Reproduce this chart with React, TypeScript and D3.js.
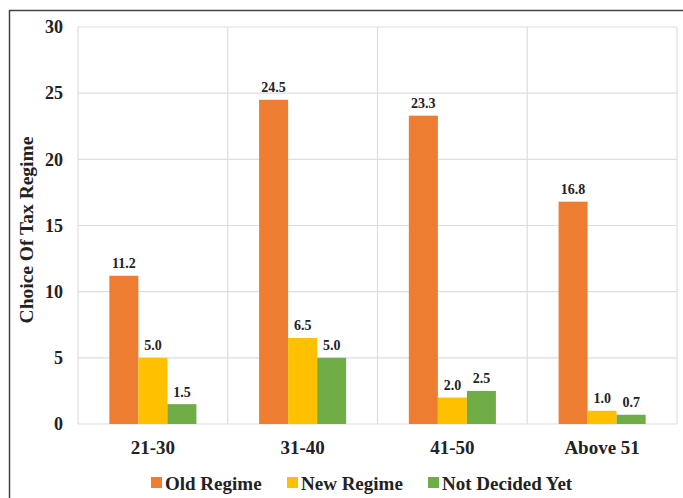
import React from "react";
import * as d3 from "d3";

const categories = ["21-30", "31-40", "41-50", "Above 51"];
const seriesNames = ["Old Regime", "New Regime", "Not Decided Yet"];
const oldRegime = [11.2, 24.5, 23.3, 16.8];
const newRegime = [5.0, 6.5, 2.0, 1.0];
const notDecided = [1.5, 5.0, 2.5, 0.7];
const yTicks = [0, 5, 10, 15, 20, 25, 30];
const colors = ["#ED7D31", "#FFC000", "#70AD47"];

const W = 683, H = 498;
const left = 78, right = 677, top = 27, bottom = 424;
const font = "'Liberation Serif', 'Times New Roman', serif";

export default function App() {
  const series = [oldRegime, newRegime, notDecided];
  const x = d3.scaleBand().domain(categories).range([left, right]).paddingInner(0).paddingOuter(0);
  const xs = d3.scaleBand().domain(seriesNames).range([0, x.bandwidth()]).paddingInner(0).paddingOuter(1.08);
  const y = d3.scaleLinear().domain([0, 30]).range([bottom, top]);

  const legendX = [151, 287, 428];

  return (
    <svg width={W} height={H} style={{ position: "absolute", left: 0, top: 0, background: "#fff" }} fontFamily={font}>
      <rect x={0} y={0} width={W} height={H} fill="#fff" />
      <path d={`M9.5,${H} V10.5 H${W}`} fill="none" stroke="#444" strokeWidth={1.5} />
      {yTicks.map(t => (
        <g key={t}>
          <line x1={left} x2={right} y1={y(t)} y2={y(t)} stroke="#dedede" strokeWidth={1.2} />
          <text x={63} y={y(t)} dy="0.35em" textAnchor="end" fontSize={18} fontWeight="bold" fill="#222">{t}</text>
        </g>
      ))}
      {[...categories.map(c => x(c)!), right].map((v, i) => (
        <line key={i} x1={v} x2={v} y1={top} y2={bottom} stroke="#dedede" strokeWidth={1.2} />
      ))}
      {categories.map((c, ci) => (
        <g key={c}>
          {series.map((s, si) => {
            const bx = x(c)! + xs(seriesNames[si])!;
            const bw = xs.bandwidth();
            return (
              <g key={si}>
                <rect x={bx} y={y(s[ci])} width={bw} height={bottom - y(s[ci])} fill={colors[si]} />
                <text x={bx + bw / 2} y={y(s[ci]) - 7.5} textAnchor="middle" fontSize={14} fontWeight="bold" fill="#222">{s[ci].toFixed(1)}</text>
              </g>
            );
          })}
          <text x={x(c)! + x.bandwidth() / 2} y={454} textAnchor="middle" fontSize={19} fontWeight="bold" fill="#222">{c}</text>
        </g>
      ))}
      <text transform={`translate(33,230) rotate(-90)`} textAnchor="middle" fontSize={19.5} fontWeight="bold" fill="#222">Choice Of Tax Regime</text>
      {seriesNames.map((n, i) => (
        <g key={n}>
          <rect x={legendX[i]} y={477} width={11} height={11} fill={colors[i]} />
          <text x={legendX[i] + 14} y={489.5} fontSize={19} fontWeight="bold" fill="#222">{n}</text>
        </g>
      ))}
    </svg>
  );
}
